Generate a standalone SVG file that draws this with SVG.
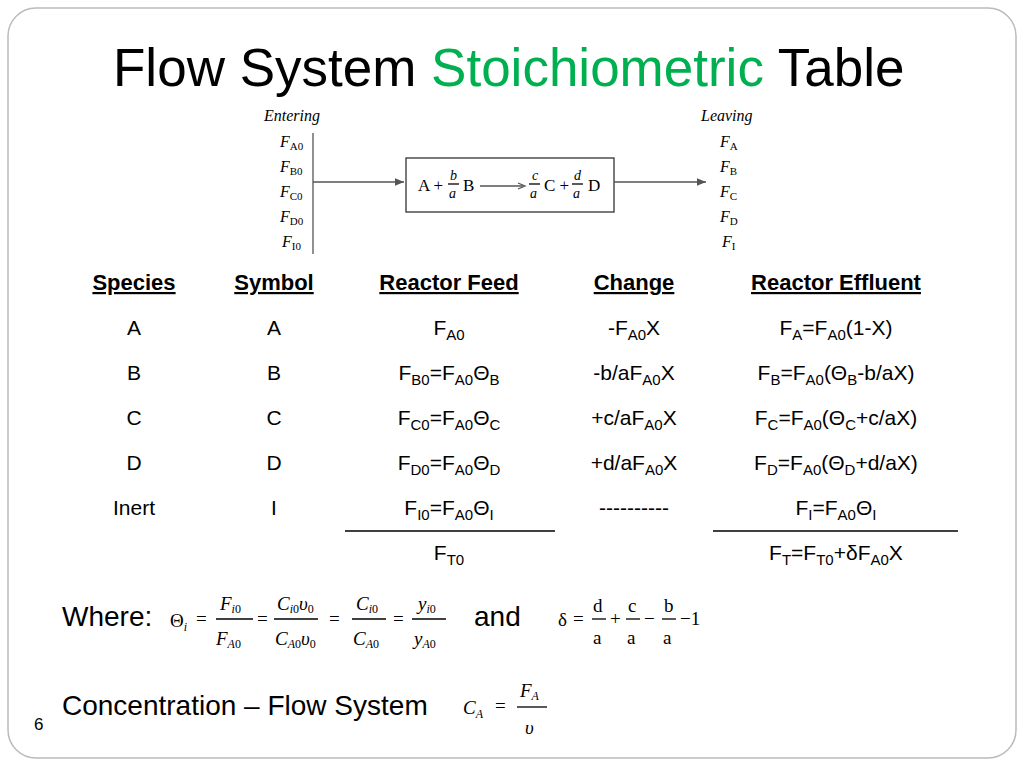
<svg xmlns="http://www.w3.org/2000/svg" width="1024" height="768" viewBox="0 0 1024 768">
<style>
.s{font-family:"Liberation Sans",Arial,sans-serif;font-size:21px;fill:#000}
.b{font-family:"Liberation Sans",Arial,sans-serif;font-size:28px;fill:#000}
.h{font-family:"Liberation Sans",Arial,sans-serif;font-size:22px;font-weight:bold;text-decoration:underline}
.m{font-family:"Liberation Serif","Times New Roman",serif;fill:#000}
.i{font-style:italic}
.sub{font-size:15px}
.ln{stroke:#000;stroke-width:1.3;fill:none}
.g{stroke:#555;stroke-width:1.3;fill:none}
</style>
<defs><marker id="ar" markerWidth="8" markerHeight="8" refX="7" refY="4" orient="auto"><path d="M0,1 L7,4 L0,7z" fill="#555"/></marker></defs>
<rect x="8" y="8" width="1008" height="750" rx="28" fill="#fff" stroke="#bbb" stroke-width="1.5"/>
<text x="113" y="86" font-family="Liberation Sans,Arial,sans-serif" font-size="53">Flow System <tspan fill="#00b050">Stoichiometric</tspan> Table</text>

<g id="figure">
<text x="264" y="121" class="m i" font-size="16">Entering</text>
<text x="701" y="121" class="m i" font-size="16">Leaving</text>
<g class="m" font-size="16">
<text x="280" y="147"><tspan class="i">F</tspan><tspan font-size="11" dy="3">A0</tspan></text>
<text x="280" y="172"><tspan class="i">F</tspan><tspan font-size="11" dy="3">B0</tspan></text>
<text x="280" y="197"><tspan class="i">F</tspan><tspan font-size="11" dy="3">C0</tspan></text>
<text x="280" y="222"><tspan class="i">F</tspan><tspan font-size="11" dy="3">D0</tspan></text>
<text x="282" y="247"><tspan class="i">F</tspan><tspan font-size="11" dy="3">I0</tspan></text>
<text x="720" y="147"><tspan class="i">F</tspan><tspan font-size="11" dy="3">A</tspan></text>
<text x="720" y="172"><tspan class="i">F</tspan><tspan font-size="11" dy="3">B</tspan></text>
<text x="720" y="197"><tspan class="i">F</tspan><tspan font-size="11" dy="3">C</tspan></text>
<text x="720" y="222"><tspan class="i">F</tspan><tspan font-size="11" dy="3">D</tspan></text>
<text x="722" y="247"><tspan class="i">F</tspan><tspan font-size="11" dy="3">I</tspan></text>
</g>
<line x1="313" y1="133" x2="313" y2="254" class="g"/>
<line x1="313" y1="182" x2="404" y2="182" class="g" marker-end="url(#ar)"/>
<rect x="406" y="158" width="208" height="54" fill="#fff" stroke="#333" stroke-width="1.3"/>
<line x1="614" y1="182" x2="706" y2="182" class="g" marker-end="url(#ar)"/>
<g class="m" font-size="17">
<text x="418" y="191">A +</text>
<text x="450" y="180" class="i" font-size="14">b</text><line x1="448" y1="184" x2="459" y2="184" class="ln" stroke-width="0.8"/><text x="449" y="198" class="i" font-size="14">a</text>
<text x="463" y="191">B</text>
<line x1="480" y1="186" x2="523" y2="186" class="g"/><path d="M518,183 L525,186 L518,189" class="g"/>
<text x="532" y="180" class="i" font-size="14">c</text><line x1="529" y1="184" x2="540" y2="184" class="ln" stroke-width="0.8"/><text x="530" y="198" class="i" font-size="14">a</text>
<text x="544" y="191">C +</text>
<text x="574" y="180" class="i" font-size="14">d</text><line x1="572" y1="184" x2="583" y2="184" class="ln" stroke-width="0.8"/><text x="573" y="198" class="i" font-size="14">a</text>
<text x="588" y="191">D</text>
</g>
</g>

<g id="table" class="s" text-anchor="middle">
<text x="134" y="290" class="h">Species</text>
<text x="274" y="290" class="h">Symbol</text>
<text x="449" y="290" class="h">Reactor Feed</text>
<text x="634" y="290" class="h">Change</text>
<text x="836" y="290" class="h">Reactor Effluent</text>

<text x="134" y="335">A</text><text x="274" y="335">A</text>
<text x="449" y="335">F<tspan class="sub" dy="5">A0</tspan></text>
<text x="634" y="335">-F<tspan class="sub" dy="5">A0</tspan><tspan dy="-5">X</tspan></text>
<text x="836" y="335">F<tspan class="sub" dy="5">A</tspan><tspan dy="-5">=F</tspan><tspan class="sub" dy="5">A0</tspan><tspan dy="-5">(1-X)</tspan></text>

<text x="134" y="380">B</text><text x="274" y="380">B</text>
<text x="449" y="380">F<tspan class="sub" dy="5">B0</tspan><tspan dy="-5">=F</tspan><tspan class="sub" dy="5">A0</tspan><tspan dy="-5">Θ</tspan><tspan class="sub" dy="5">B</tspan></text>
<text x="634" y="380">-b/aF<tspan class="sub" dy="5">A0</tspan><tspan dy="-5">X</tspan></text>
<text x="836" y="380">F<tspan class="sub" dy="5">B</tspan><tspan dy="-5">=F</tspan><tspan class="sub" dy="5">A0</tspan><tspan dy="-5">(Θ</tspan><tspan class="sub" dy="5">B</tspan><tspan dy="-5">-b/aX)</tspan></text>

<text x="134" y="425">C</text><text x="274" y="425">C</text>
<text x="449" y="425">F<tspan class="sub" dy="5">C0</tspan><tspan dy="-5">=F</tspan><tspan class="sub" dy="5">A0</tspan><tspan dy="-5">Θ</tspan><tspan class="sub" dy="5">C</tspan></text>
<text x="634" y="425">+c/aF<tspan class="sub" dy="5">A0</tspan><tspan dy="-5">X</tspan></text>
<text x="836" y="425">F<tspan class="sub" dy="5">C</tspan><tspan dy="-5">=F</tspan><tspan class="sub" dy="5">A0</tspan><tspan dy="-5">(Θ</tspan><tspan class="sub" dy="5">C</tspan><tspan dy="-5">+c/aX)</tspan></text>

<text x="134" y="470">D</text><text x="274" y="470">D</text>
<text x="449" y="470">F<tspan class="sub" dy="5">D0</tspan><tspan dy="-5">=F</tspan><tspan class="sub" dy="5">A0</tspan><tspan dy="-5">Θ</tspan><tspan class="sub" dy="5">D</tspan></text>
<text x="634" y="470">+d/aF<tspan class="sub" dy="5">A0</tspan><tspan dy="-5">X</tspan></text>
<text x="836" y="470">F<tspan class="sub" dy="5">D</tspan><tspan dy="-5">=F</tspan><tspan class="sub" dy="5">A0</tspan><tspan dy="-5">(Θ</tspan><tspan class="sub" dy="5">D</tspan><tspan dy="-5">+d/aX)</tspan></text>

<text x="134" y="515">Inert</text><text x="274" y="515">I</text>
<text x="449" y="515">F<tspan class="sub" dy="5">I0</tspan><tspan dy="-5">=F</tspan><tspan class="sub" dy="5">A0</tspan><tspan dy="-5">Θ</tspan><tspan class="sub" dy="5">I</tspan></text>
<text x="634" y="515">----------</text>
<text x="836" y="515">F<tspan class="sub" dy="5">I</tspan><tspan dy="-5">=F</tspan><tspan class="sub" dy="5">A0</tspan><tspan dy="-5">Θ</tspan><tspan class="sub" dy="5">I</tspan></text>

<text x="449" y="560">F<tspan class="sub" dy="5">T0</tspan></text>
<text x="836" y="560">F<tspan class="sub" dy="5">T</tspan><tspan dy="-5">=F</tspan><tspan class="sub" dy="5">T0</tspan><tspan dy="-5">+δF</tspan><tspan class="sub" dy="5">A0</tspan><tspan dy="-5">X</tspan></text>
</g>
<line x1="345" y1="531" x2="555" y2="531" stroke="#000" stroke-width="1.5"/>
<line x1="713" y1="531" x2="958" y2="531" stroke="#000" stroke-width="1.5"/>

<g id="where">
<text x="62" y="626" class="b">Where:</text>
<g class="m" font-size="19">
<text x="170" y="627">Θ<tspan class="i" font-size="12" dy="4">i</tspan></text>
<text x="196" y="625">=</text>
<text x="220" y="610"><tspan class="i">F</tspan><tspan class="i" font-size="12" dy="3">i</tspan><tspan font-size="12">0</tspan></text>
<line x1="216" y1="619" x2="253" y2="619" class="ln" stroke-width="1"/>
<text x="216" y="645"><tspan class="i">F</tspan><tspan class="i" font-size="12" dy="3">A</tspan><tspan font-size="12">0</tspan></text>
<text x="257" y="625">=</text>
<text x="277" y="610"><tspan class="i">C</tspan><tspan class="i" font-size="12" dy="3">i</tspan><tspan font-size="12">0</tspan><tspan class="i" dy="-3">υ</tspan><tspan font-size="12" dy="3">0</tspan></text>
<line x1="274" y1="619" x2="318" y2="619" class="ln" stroke-width="1"/>
<text x="275" y="645"><tspan class="i">C</tspan><tspan class="i" font-size="12" dy="3">A</tspan><tspan font-size="12">0</tspan><tspan class="i" dy="-3">υ</tspan><tspan font-size="12" dy="3">0</tspan></text>
<text x="329" y="625">=</text>
<text x="356" y="610"><tspan class="i">C</tspan><tspan class="i" font-size="12" dy="3">i</tspan><tspan font-size="12">0</tspan></text>
<line x1="352" y1="619" x2="386" y2="619" class="ln" stroke-width="1"/>
<text x="353" y="645"><tspan class="i">C</tspan><tspan class="i" font-size="12" dy="3">A</tspan><tspan font-size="12">0</tspan></text>
<text x="393" y="625">=</text>
<text x="418" y="610"><tspan class="i">y</tspan><tspan class="i" font-size="12" dy="3">i</tspan><tspan font-size="12">0</tspan></text>
<line x1="412" y1="619" x2="446" y2="619" class="ln" stroke-width="1"/>
<text x="414" y="645"><tspan class="i">y</tspan><tspan class="i" font-size="12" dy="3">A</tspan><tspan font-size="12">0</tspan></text>
</g>
<text x="474" y="626" class="b">and</text>
<g class="m" font-size="19">
<text x="558" y="626">δ</text><text x="573" y="625">=</text>
<text x="593" y="612">d</text><line x1="592" y1="619" x2="606" y2="619" class="ln" stroke-width="1"/><text x="593" y="644">a</text>
<text x="610" y="625">+</text>
<text x="628" y="612">c</text><line x1="626" y1="619" x2="640" y2="619" class="ln" stroke-width="1"/><text x="627" y="644">a</text>
<text x="644" y="625">−</text>
<text x="664" y="612">b</text><line x1="662" y1="619" x2="676" y2="619" class="ln" stroke-width="1"/><text x="663" y="644">a</text>
<text x="680" y="625">−1</text>
</g>
</g>

<g id="conc">
<text x="62" y="715" class="b">Concentration – Flow System</text>
<g class="m" font-size="19">
<text x="463" y="714"><tspan class="i">C</tspan><tspan class="i" font-size="12" dy="4">A</tspan></text>
<text x="495" y="712">=</text>
<text x="520" y="697"><tspan class="i">F</tspan><tspan class="i" font-size="12" dy="3">A</tspan></text>
<line x1="517" y1="707" x2="547" y2="707" class="ln" stroke-width="1"/>
<text x="525" y="734" class="i">υ</text>
</g>
</g>
<text x="34" y="730" font-family="Liberation Sans,Arial,sans-serif" font-size="17">6</text>
</svg>
